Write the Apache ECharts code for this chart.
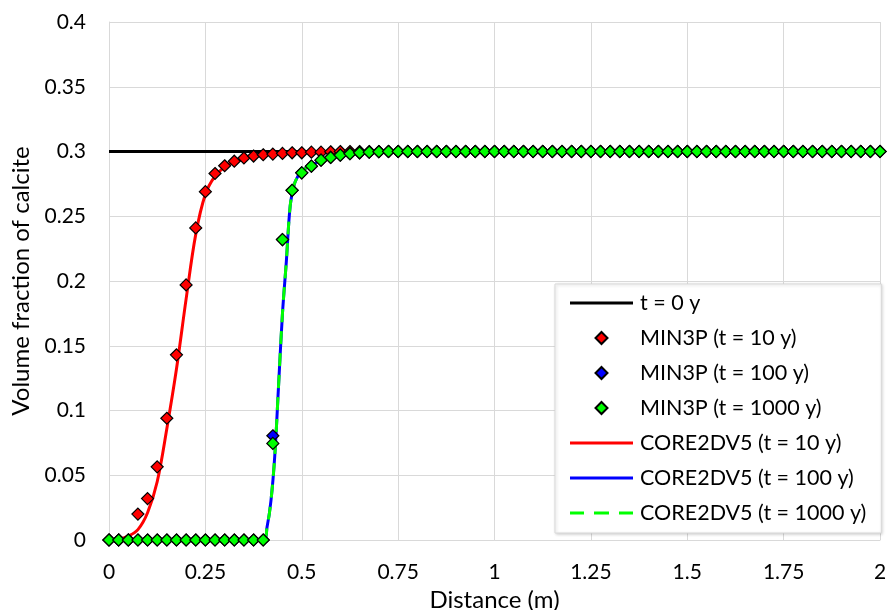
<!DOCTYPE html>
<html>
<head>
<meta charset="utf-8">
<script src="https://cdn.jsdelivr.net/npm/echarts@6/dist/echarts.min.js"></script>
<style>
  html, body { margin: 0; padding: 0; background: #fff; }
  #chart { width: 888px; height: 610px; }
</style>
</head>
<body>
<div id="chart"></div>
<script>
// Distance grid of the MIN3P output (m)
const distance = [
  0, 0.025, 0.05, 0.075, 0.1, 0.125, 0.15, 0.175, 0.2, 0.225,
  0.25, 0.275, 0.3, 0.325, 0.35, 0.375, 0.4, 0.425, 0.45, 0.475,
  0.5, 0.525, 0.55, 0.575, 0.6, 0.625, 0.65, 0.675, 0.7, 0.725,
  0.75, 0.775, 0.8, 0.825, 0.85, 0.875, 0.9, 0.925, 0.95, 0.975,
  1, 1.025, 1.05, 1.075, 1.1, 1.125, 1.15, 1.175, 1.2, 1.225,
  1.25, 1.275, 1.3, 1.325, 1.35, 1.375, 1.4, 1.425, 1.45, 1.475,
  1.5, 1.525, 1.55, 1.575, 1.6, 1.625, 1.65, 1.675, 1.7, 1.725,
  1.75, 1.775, 1.8, 1.825, 1.85, 1.875, 1.9, 1.925, 1.95, 1.975,
  2
];

// MIN3P calcite volume fraction, t = 10 y
const min3p10 = [
  0, 0, 0, 0.02, 0.032, 0.0565, 0.094, 0.143, 0.197, 0.241,
  0.269, 0.283, 0.289, 0.2925, 0.295, 0.2965, 0.2975, 0.298, 0.2985, 0.299,
  0.299, 0.2995, 0.2995, 0.2998, 0.3, 0.3, 0.3, 0.3, 0.3, 0.3,
  0.3, 0.3, 0.3, 0.3, 0.3, 0.3, 0.3, 0.3, 0.3, 0.3,
  0.3, 0.3, 0.3, 0.3, 0.3, 0.3, 0.3, 0.3, 0.3, 0.3,
  0.3, 0.3, 0.3, 0.3, 0.3, 0.3, 0.3, 0.3, 0.3, 0.3,
  0.3, 0.3, 0.3, 0.3, 0.3, 0.3, 0.3, 0.3, 0.3, 0.3,
  0.3, 0.3, 0.3, 0.3, 0.3, 0.3, 0.3, 0.3, 0.3, 0.3,
  0.3
];

// MIN3P calcite volume fraction, t = 100 y
const min3p100 = [
  0, 0, 0, 0, 0, 0, 0, 0, 0, 0,
  0, 0, 0, 0, 0, 0, 0, 0.0805, 0.232, 0.27,
  0.2835, 0.2887, 0.2933, 0.2954, 0.2972, 0.2983, 0.299, 0.2995, 0.2998, 0.3,
  0.3, 0.3, 0.3, 0.3, 0.3, 0.3, 0.3, 0.3, 0.3, 0.3,
  0.3, 0.3, 0.3, 0.3, 0.3, 0.3, 0.3, 0.3, 0.3, 0.3,
  0.3, 0.3, 0.3, 0.3, 0.3, 0.3, 0.3, 0.3, 0.3, 0.3,
  0.3, 0.3, 0.3, 0.3, 0.3, 0.3, 0.3, 0.3, 0.3, 0.3,
  0.3, 0.3, 0.3, 0.3, 0.3, 0.3, 0.3, 0.3, 0.3, 0.3,
  0.3
];

// MIN3P calcite volume fraction, t = 1000 y
const min3p1000 = [
  0, 0, 0, 0, 0, 0, 0, 0, 0, 0,
  0, 0, 0, 0, 0, 0, 0, 0.0746, 0.232, 0.27,
  0.2835, 0.2887, 0.2933, 0.2954, 0.2972, 0.2983, 0.299, 0.2995, 0.2998, 0.3,
  0.3, 0.3, 0.3, 0.3, 0.3, 0.3, 0.3, 0.3, 0.3, 0.3,
  0.3, 0.3, 0.3, 0.3, 0.3, 0.3, 0.3, 0.3, 0.3, 0.3,
  0.3, 0.3, 0.3, 0.3, 0.3, 0.3, 0.3, 0.3, 0.3, 0.3,
  0.3, 0.3, 0.3, 0.3, 0.3, 0.3, 0.3, 0.3, 0.3, 0.3,
  0.3, 0.3, 0.3, 0.3, 0.3, 0.3, 0.3, 0.3, 0.3, 0.3,
  0.3
];

// Initial condition, t = 0 y
const initX = [0, 2];
const initY = [0.3, 0.3];

// CORE2DV5 profile, t = 10 y
const core10X = [0, 0.025, 0.05, 0.075, 0.1, 0.125, 0.15, 0.175, 0.2, 0.225, 0.25, 0.275, 0.3, 0.325, 0.35, 0.4, 0.45, 0.5, 0.55, 0.6, 2];
const core10Y = [0, 0.0005, 0.003, 0.008, 0.021, 0.045, 0.086, 0.132, 0.186, 0.236, 0.267, 0.281, 0.288, 0.2925, 0.2955, 0.2975, 0.2987, 0.2994, 0.2998, 0.3, 0.3];

// CORE2DV5 profile, t = 100 y
const core100X = [0, 0.4, 0.41, 0.42, 0.43, 0.44, 0.45, 0.46, 0.47, 0.48, 0.49, 0.5, 0.525, 0.55, 0.6, 0.65, 0.7, 2];
const core100Y = [0, 0, 0.01, 0.03, 0.065, 0.12, 0.175, 0.215, 0.258, 0.274, 0.281, 0.285, 0.2895, 0.293, 0.297, 0.299, 0.3, 0.3];

// CORE2DV5 profile, t = 1000 y
const core1000X = [0, 0.4, 0.41, 0.42, 0.43, 0.44, 0.45, 0.46, 0.47, 0.48, 0.49, 0.5, 0.525, 0.55, 0.6, 0.65, 0.7, 2];
const core1000Y = [0, 0, 0.01, 0.03, 0.065, 0.12, 0.175, 0.215, 0.258, 0.274, 0.281, 0.285, 0.2895, 0.293, 0.297, 0.299, 0.3, 0.3];

const seriesNames = [
  't = 0 y',
  'MIN3P (t = 10 y)', 'MIN3P (t = 100 y)', 'MIN3P (t = 1000 y)',
  'CORE2DV5 (t = 10 y)', 'CORE2DV5 (t = 100 y)', 'CORE2DV5 (t = 1000 y)'
];

const FONT = 'Lato, "Open Sans", sans-serif';

// Legend glyphs: a diamond marker, a solid stroke and a dashed stroke
const ICON_DIAMOND = 'path://M0,-1L1,0L0,1L-1,0Z';
const ICON_SOLID = 'path://M0,0H63V3H0Z';
const ICON_DASHED = 'path://M0,0H14V3H0Z M24,0H39V3H24Z M49,0H63V3H49Z';

function pairs(xs, ys) {
  return xs.map((x, i) => [x, ys[i]]);
}

function lineSeries(name, xs, ys, color, type, z) {
  return {
    name, type: 'line', data: pairs(xs, ys),
    symbol: 'none', smooth: 0.35, z,
    lineStyle: { color, width: 3, type },
    itemStyle: { color }
  };
}

function markerSeries(name, ys, color, z) {
  return {
    name, type: 'scatter', data: pairs(distance, ys),
    symbol: 'diamond', symbolSize: 12, z,
    itemStyle: { color, borderColor: '#000', borderWidth: 1.2, opacity: 1 }
  };
}

function lineLegend(name, icon, color) {
  return { name, icon, itemStyle: { color, borderWidth: 0 } };
}

const chart = echarts.init(document.getElementById('chart'), null, { renderer: 'canvas' });

chart.setOption({
  animation: false,
  backgroundColor: '#fff',
  textStyle: { fontFamily: FONT },
  grid: { left: 109, right: 8, top: 22, bottom: 70, containLabel: false, outerBoundsMode: 'none' },
  xAxis: {
    type: 'value', min: 0, max: 2, interval: 0.25,
    name: 'Distance (m)', nameLocation: 'middle', nameGap: 43,
    nameTextStyle: { fontSize: 24, color: '#000', fontFamily: FONT },
    axisLine: { show: true, lineStyle: { color: '#d9d9d9', width: 1 } },
    axisTick: { show: false },
    axisLabel: { fontSize: 21, color: '#000', margin: 22, fontFamily: FONT },
    splitLine: { show: true, lineStyle: { color: '#d9d9d9', width: 1 } }
  },
  yAxis: {
    type: 'value', min: 0, max: 0.4, interval: 0.05,
    name: 'Volume fraction of calcite', nameLocation: 'middle', nameGap: 71,
    nameTextStyle: { fontSize: 24, color: '#000', fontFamily: FONT },
    axisLine: { show: true, lineStyle: { color: '#d9d9d9', width: 1 } },
    axisTick: { show: false },
    axisLabel: { fontSize: 21, color: '#000', margin: 23, fontFamily: FONT },
    splitLine: { show: true, lineStyle: { color: '#d9d9d9', width: 1 } }
  },
  legend: {
    orient: 'vertical',
    left: 555, top: 284,
    padding: [8, 15, 9, 15],
    itemWidth: 63, itemHeight: 12, itemGap: 13,
    backgroundColor: '#fff',
    borderColor: '#d9d9d9', borderWidth: 1,
    shadowColor: 'rgba(0,0,0,0.18)', shadowBlur: 3, shadowOffsetX: 1, shadowOffsetY: 1,
    textStyle: { fontSize: 21.5, color: '#000', fontFamily: FONT, lineHeight: 22, padding: [0, 0, 0, 2] },
    selectedMode: false,
    data: [
      lineLegend(seriesNames[0], ICON_SOLID, '#000000'),
      { name: seriesNames[1], icon: ICON_DIAMOND },
      { name: seriesNames[2], icon: ICON_DIAMOND },
      { name: seriesNames[3], icon: ICON_DIAMOND },
      lineLegend(seriesNames[4], ICON_SOLID, '#ff0000'),
      lineLegend(seriesNames[5], ICON_SOLID, '#0000ff'),
      lineLegend(seriesNames[6], ICON_DASHED, '#00ff00')
    ]
  },
  series: [
    lineSeries(seriesNames[0], initX, initY, '#000000', 'solid', 2),
    markerSeries(seriesNames[1], min3p10, '#ff0000', 5),
    markerSeries(seriesNames[2], min3p100, '#0000ff', 6),
    markerSeries(seriesNames[3], min3p1000, '#00ff00', 7),
    lineSeries(seriesNames[4], core10X, core10Y, '#ff0000', 'solid', 3),
    lineSeries(seriesNames[5], core100X, core100Y, '#0000ff', 'solid', 3),
    lineSeries(seriesNames[6], core1000X, core1000Y, '#00ff00', [13, 9], 4)
  ]
});
</script>
</body>
</html>
